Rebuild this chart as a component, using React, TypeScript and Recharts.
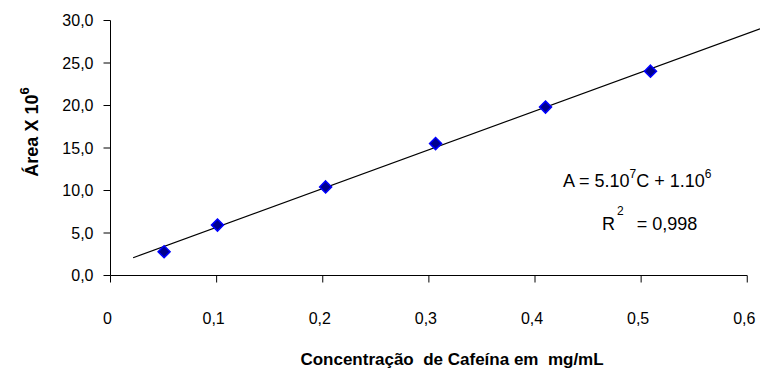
import React from 'react';
import { ScatterChart, Scatter, XAxis, YAxis, ReferenceLine, Customized } from 'recharts';

// Measured calibration points
const concentration = [0.0505, 0.1008, 0.2027, 0.3063, 0.4099, 0.5088];
const area = [2.79, 5.93, 10.42, 15.52, 19.81, 24.04];

// Linear trendline endpoints (as drawn in the picture)
const trendX = [0.0213, 0.612];
const trendY = [2.09, 29.02];

const xTicks = [0, 0.1, 0.2, 0.3, 0.4, 0.5, 0.6];
const yTicks = [0, 5, 10, 15, 20, 25, 30];

const xTitle = 'Concentração  de Cafeína em  mg/mL';
const yTitle = 'Área X 10';
const yTitleSup = '6';
const eqParts = ['A = 5.10', '7', 'C + 1.10', '6'];
const r2Parts = ['R', '2', '= 0,998'];

const FONT = '"Liberation Sans", Arial, sans-serif';

const points = concentration.map((c, i) => ({ x: c, y: area[i] }));
const trend = trendX.map((x, i) => ({ x, y: trendY[i] }));

const fmtX = (v: number) => (v === 0 ? '0' : v.toFixed(1).replace('.', ','));
const fmtY = (v: number) => v.toFixed(1).replace('.', ',');

const Diamond = (props: any) => {
  const { cx, cy } = props;
  if (cx == null || cy == null) return <g />;
  const r = 6;
  return (
    <polygon
      points={`${cx},${cy - r} ${cx + r},${cy} ${cx},${cy + r} ${cx - r},${cy}`}
      fill="#000090"
      stroke="#0000FF"
      strokeWidth={1.5}
    />
  );
};

const NoShape = () => <g />;

const XTick = (props: any) => {
  const { x, y, payload } = props;
  return (
    <text x={x} y={y} dx={-3} dy="0.71em" textAnchor="middle" fill="#000" fontSize={16} fontFamily={FONT}>
      {fmtX(payload.value)}
    </text>
  );
};

const Annotations = () => (
  <g fontFamily={FONT} fill="#000">
    <text
      transform="rotate(-90)"
      x={-132}
      y={38}
      textAnchor="middle"
      fontWeight="bold"
      fontSize={18}
    >
      {yTitle}
      <tspan dy={-9} fontSize={13}>{yTitleSup}</tspan>
    </text>
    <text x={452} y={365} textAnchor="middle" fontWeight="bold" fontSize={17} style={{ whiteSpace: 'pre' }}>
      {xTitle}
    </text>
    <text x={563} y={187} fontSize={18} style={{ whiteSpace: 'pre' }}>
      {eqParts[0]}
      <tspan dy={-9} fontSize={12}>{eqParts[1]}</tspan>
      <tspan dy={9} fontSize={18}>{eqParts[2]}</tspan>
      <tspan dy={-9} fontSize={12}>{eqParts[3]}</tspan>
    </text>
    <text x={602} y={230} fontSize={18} style={{ whiteSpace: 'pre' }}>
      {r2Parts[0]}
      <tspan dx={2} dy={-15} fontSize={12}>{r2Parts[1]}</tspan>
      <tspan dx={13} dy={15} fontSize={18}>{r2Parts[2]}</tspan>
    </text>
  </g>
);

export default function App() {
  return (
    <div style={{ position: 'absolute', left: 0, top: 0, width: 760, height: 372, background: '#fff' }}>
      <ScatterChart width={760} height={372} margin={{ top: 20.5, right: 0, bottom: 0, left: 0 }}>
        <XAxis
          type="number"
          dataKey="x"
          domain={[0, 0.612]}
          ticks={xTicks}
          interval={0}
          axisLine={false}
          tickLine={{ stroke: '#000', strokeWidth: 1 }}
          tickSize={7}
          tickMargin={30}
          height={96.5}
          tick={<XTick />}
        />
        <YAxis
          type="number"
          dataKey="y"
          domain={[0, 30]}
          ticks={yTicks}
          interval={0}
          width={110.5}
          axisLine={{ stroke: '#000', strokeWidth: 1 }}
          tickLine={{ stroke: '#000', strokeWidth: 1 }}
          tickSize={7}
          tickMargin={10}
          tickFormatter={fmtY}
          tick={{ fill: '#000', fontSize: 16, fontFamily: FONT }}
        />
        <ReferenceLine
          segment={[{ x: 0, y: 0 }, { x: 0.6, y: 0 }]}
          stroke="#000"
          strokeWidth={1}
          ifOverflow="visible"
        />
        <Scatter
          data={trend}
          line={{ stroke: '#000', strokeWidth: 1.2 }}
          shape={<NoShape />}
          isAnimationActive={false}
          legendType="none"
        />
        <Scatter data={points} shape={<Diamond />} isAnimationActive={false} legendType="none" />
        <Customized component={Annotations} />
      </ScatterChart>
    </div>
  );
}
